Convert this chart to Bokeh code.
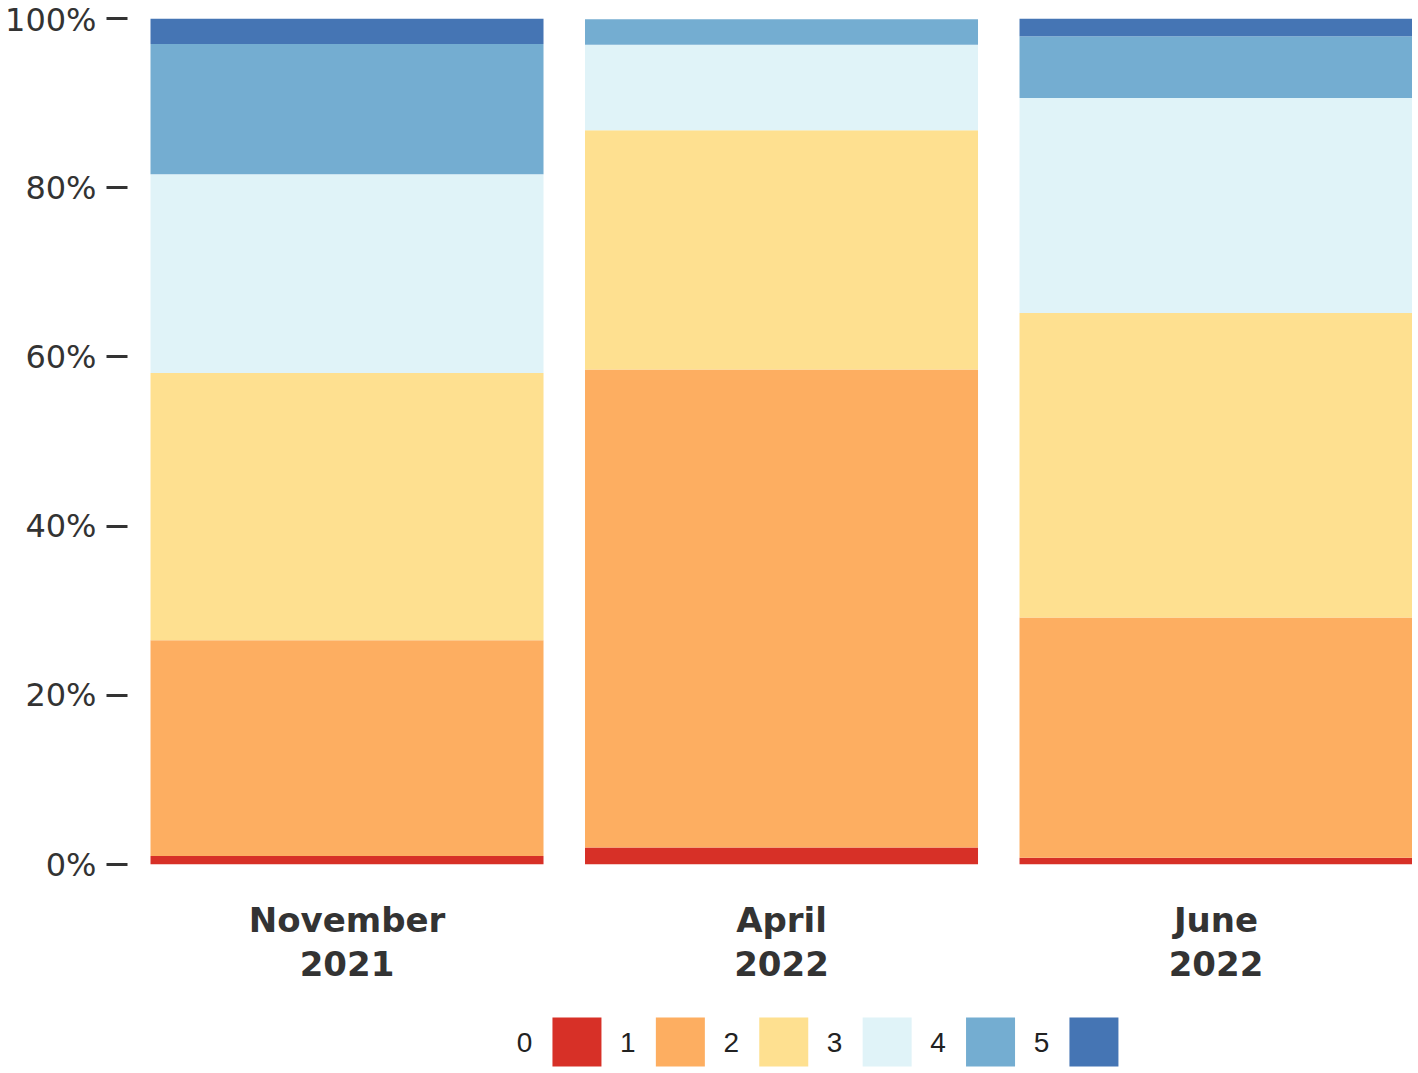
from bokeh.plotting import figure
from bokeh.models import ColumnDataSource, Range1d, FixedTicker, NumeralTickFormatter
from bokeh.layouts import column
from bokeh.embed import file_html
from bokeh.resources import INLINE
from bokeh.core.properties import value

# ---- data (percent shares per response level) ----
periods = ["November\n2021", "April\n2022", "June\n2022"]
levels = ["0", "1", "2", "3", "4", "5"]
level_0 = [1.0, 2.0, 0.8]
level_1 = [25.5, 56.5, 28.4]
level_2 = [31.6, 28.3, 36.0]
level_3 = [23.5, 10.1, 25.4]
level_4 = [15.4, 3.0, 7.3]
level_5 = [3.0, 0.0, 2.1]
colors = ["#d73027", "#fdae61", "#fee090", "#e0f3f8", "#74add1", "#4575b4"]
y_ticks = [0, 0.2, 0.4, 0.6, 0.8, 1.0]

series = [level_0, level_1, level_2, level_3, level_4, level_5]
xpos = list(range(len(periods)))
data = {"x": xpos}
for name, vals in zip(levels, series):
    data[name] = [v / 100.0 for v in vals]
source = ColumnDataSource(data)

W = 1412
LEFT = 127
p = figure(width=W, height=1000, output_backend="svg", toolbar_location=None,
           x_range=Range1d(-0.5052, 2.4522), y_range=Range1d(0, 1),
           min_border_left=LEFT, min_border_right=0, min_border_top=18,
           min_border_bottom=136)
p.vbar_stack(levels, x="x", width=0.9045, source=source, color=colors,
             line_color=None)

p.outline_line_color = None
p.xgrid.grid_line_color = None
p.ygrid.grid_line_color = None

# y axis
p.yaxis.ticker = FixedTicker(ticks=y_ticks)
p.yaxis.formatter = NumeralTickFormatter(format="0%")
p.yaxis.axis_line_color = None
p.yaxis.major_tick_in = 0
p.yaxis.major_tick_out = 21
p.yaxis.major_tick_line_width = 3
p.yaxis.major_tick_line_color = "#333333"
p.yaxis.minor_tick_line_color = None
p.yaxis.major_label_standoff = 10
p.yaxis.major_label_text_font = "DejaVu Sans"
p.yaxis.major_label_text_font_size = "32px"
p.yaxis.major_label_text_color = "#333333"

# x axis
p.xaxis.ticker = FixedTicker(ticks=xpos)
p.xaxis.major_label_overrides = {i: lab for i, lab in zip(xpos, periods)}
p.xaxis.axis_line_color = None
p.xaxis.major_tick_line_color = None
p.xaxis.minor_tick_line_color = None
p.xaxis.major_label_standoff = 29
p.xaxis.major_label_text_font = "DejaVu Sans"
p.xaxis.major_label_text_font_style = "bold"
p.xaxis.major_label_text_font_size = "34px"
p.xaxis.major_label_text_color = "#333333"
p.xaxis.major_label_text_line_height = 1.12

# legend strip (label placed before each swatch)
lg = figure(width=W, height=73, output_backend="svg", toolbar_location=None,
            x_range=Range1d(-4.347, 8.081), y_range=Range1d(0, 1),
            min_border_left=LEFT, min_border_right=0, min_border_top=0,
            min_border_bottom=0)
lg.axis.visible = False
lg.grid.visible = False
lg.outline_line_color = None
idx = list(range(len(levels)))
lsrc = ColumnDataSource({"x": idx, "tx": [i - 0.5077 for i in idx],
                         "y": [0.4315] * len(idx), "c": colors, "t": levels})
lg.rect(x="x", y="y", width=49, height=49, width_units="screen",
        height_units="screen", fill_color="c", line_color=None, source=lsrc)
lg.text(x="tx", y="y", text="t", source=lsrc, text_align="center",
        text_baseline="middle", text_font=value("Liberation Sans"),
        text_font_size="28px", text_color="#222222")

layout = column(p, lg, spacing=0)
open("out.html", "w").write(file_html(layout, INLINE))
